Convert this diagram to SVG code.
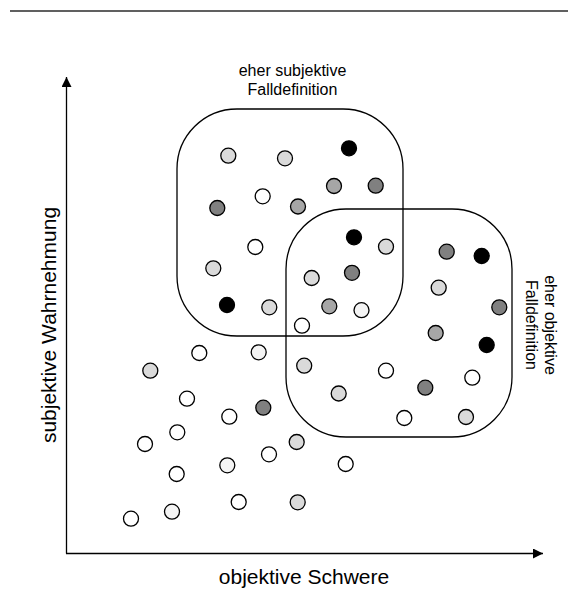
<svg xmlns="http://www.w3.org/2000/svg" width="568" height="616" viewBox="0 0 568 616">
<style>
  .lbl { font-family: "Liberation Sans", Arial, sans-serif; fill: #000; }
  .region { fill: none; stroke: #000; stroke-width: 1.3; }
  .pt { stroke: #000; stroke-width: 1.3; }
  .w { fill: #ffffff; }
  .vl { fill: #f4f4f4; }
  .l { fill: #dadada; }
  .m { fill: #a6a6a6; }
  .d { fill: #808080; }
  .k { fill: #000000; }
  .axis { stroke: #000; stroke-width: 1.3; fill: none; }
</style>
<defs>
  <marker id="arrow" viewBox="0 0 10 10" refX="10" refY="5" markerWidth="10" markerHeight="10" markerUnits="userSpaceOnUse" orient="auto">
    <path d="M0,0 L10,5 L0,10 Z" fill="#000"/>
  </marker>
</defs>
<rect x="0" y="0" width="568" height="616" fill="#fff"/>
<line x1="10" y1="11" x2="568" y2="11" stroke="#606060" stroke-width="2"/>

<g id="connectors">
  <line class="axis" x1="66.5" y1="553.5" x2="66.5" y2="77" marker-end="url(#arrow)"/>
  <line class="axis" x1="66" y1="553.5" x2="543" y2="553.5" marker-end="url(#arrow)"/>
</g>

<g id="axis-x-label">
  <text class="lbl" x="304" y="583.5" font-size="21" text-anchor="middle">objektive Schwere</text>
</g>
<g id="axis-y-label">
  <text class="lbl" font-size="21" text-anchor="middle" transform="translate(56,325) rotate(-90)">subjektive Wahrnehmung</text>
</g>

<g id="region-subjektiv">
  <rect class="region" x="177" y="109" width="226" height="227" rx="60" ry="60"/>
  <text class="lbl" x="292.5" y="76" font-size="16" text-anchor="middle">eher subjektive</text>
  <text class="lbl" x="292.5" y="94.5" font-size="16" text-anchor="middle">Falldefinition</text>
</g>
<g id="region-objektiv">
  <rect class="region" x="286" y="209" width="226" height="228" rx="60" ry="60"/>
  <g transform="translate(0,325) rotate(90)">
    <text class="lbl" x="0" y="-544.5" font-size="16" text-anchor="middle">eher objektive</text>
    <text class="lbl" x="0" y="-526" font-size="16" text-anchor="middle">Falldefinition</text>
  </g>
</g>

<g id="points">
  <circle class="pt l" cx="228.3" cy="155.7" r="7.5"/>
  <circle class="pt l" cx="285" cy="158.3" r="7.5"/>
  <circle class="pt k" cx="349" cy="148.3" r="7.5"/>
  <circle class="pt m" cx="334" cy="186" r="7.5"/>
  <circle class="pt d" cx="375.7" cy="185.7" r="7.5"/>
  <circle class="pt w" cx="262.7" cy="196.3" r="7.5"/>
  <circle class="pt d" cx="217.3" cy="208" r="7.5"/>
  <circle class="pt m" cx="298" cy="206.5" r="7.5"/>
  <circle class="pt k" cx="354" cy="237.3" r="7.5"/>
  <circle class="pt l" cx="386" cy="246.7" r="7.5"/>
  <circle class="pt w" cx="255.3" cy="247" r="7.5"/>
  <circle class="pt l" cx="213.3" cy="268.3" r="7.5"/>
  <circle class="pt l" cx="311.7" cy="278" r="7.5"/>
  <circle class="pt d" cx="352" cy="272.8" r="7.5"/>
  <circle class="pt k" cx="227" cy="305" r="7.5"/>
  <circle class="pt l" cx="269.3" cy="307.3" r="7.5"/>
  <circle class="pt m" cx="329.3" cy="306.3" r="7.5"/>
  <circle class="pt vl" cx="361.5" cy="310.2" r="7.5"/>
  <circle class="pt w" cx="302" cy="325.7" r="7.5"/>

  <circle class="pt d" cx="446.7" cy="251.7" r="7.5"/>
  <circle class="pt k" cx="481.7" cy="256" r="7.5"/>
  <circle class="pt l" cx="438.7" cy="287.7" r="7.5"/>
  <circle class="pt d" cx="499.3" cy="307.3" r="7.5"/>
  <circle class="pt m" cx="435.7" cy="333" r="7.5"/>
  <circle class="pt k" cx="486.7" cy="345" r="7.5"/>
  <circle class="pt l" cx="304.2" cy="365.7" r="7.5"/>
  <circle class="pt w" cx="386" cy="370.7" r="7.5"/>
  <circle class="pt w" cx="472.3" cy="377.7" r="7.5"/>
  <circle class="pt d" cx="425.3" cy="387.7" r="7.5"/>
  <circle class="pt l" cx="338.7" cy="393.5" r="7.5"/>
  <circle class="pt w" cx="404.3" cy="418" r="7.5"/>
  <circle class="pt l" cx="466" cy="417" r="7.5"/>

  <circle class="pt w" cx="199.3" cy="353" r="7.5"/>
  <circle class="pt vl" cx="258.7" cy="352.3" r="7.5"/>
  <circle class="pt l" cx="150.3" cy="370.7" r="7.5"/>
  <circle class="pt w" cx="187" cy="398.7" r="7.5"/>
  <circle class="pt d" cx="263.3" cy="407.7" r="7.5"/>
  <circle class="pt w" cx="229.3" cy="416.7" r="7.5"/>
  <circle class="pt w" cx="177.3" cy="432.3" r="7.5"/>
  <circle class="pt w" cx="145" cy="444" r="7.5"/>
  <circle class="pt l" cx="296.7" cy="442" r="7.5"/>
  <circle class="pt w" cx="269" cy="454.3" r="7.5"/>
  <circle class="pt vl" cx="227.3" cy="465.3" r="7.5"/>
  <circle class="pt w" cx="345.7" cy="464" r="7.5"/>
  <circle class="pt w" cx="176.7" cy="474" r="7.5"/>
  <circle class="pt w" cx="238.7" cy="502" r="7.5"/>
  <circle class="pt l" cx="297.7" cy="502.3" r="7.5"/>
  <circle class="pt vl" cx="172" cy="511.7" r="7.5"/>
  <circle class="pt w" cx="131" cy="518.7" r="7.5"/>
</g>
</svg>
